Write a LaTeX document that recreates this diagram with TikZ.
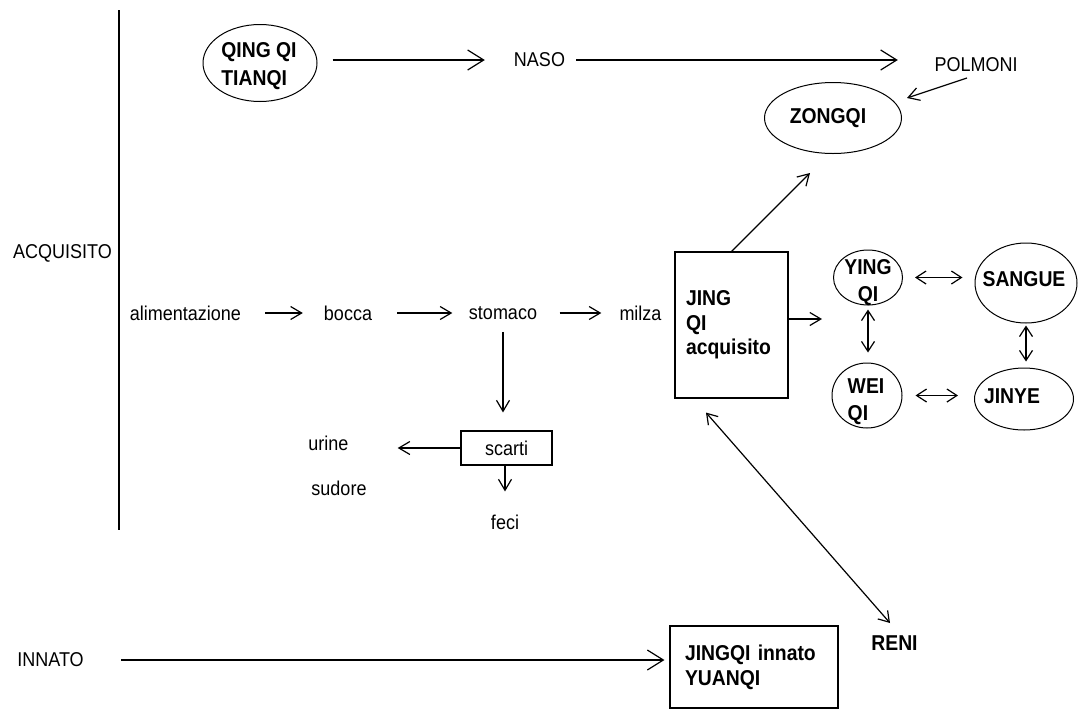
\documentclass[tikz,border=0pt]{standalone}
\usepackage{fontspec}
\setmainfont[FakeStretch=0.9]{Liberation Sans}
\usetikzlibrary{arrows.meta,shapes.geometric}
\newcommand\regf{\fontsize{20}{24}\selectfont}
\newcommand\bldf{\bfseries\fontsize{21.5}{26}\selectfont}
\begin{document}
\begin{tikzpicture}[x=1pt,y=-1pt,
 lbl/.style={inner sep=0pt, font=\regf},
 blbl/.style={inner sep=0pt, font=\bldf, align=left},
 oval/.style={draw, ellipse, inner sep=0pt, line width=1pt},
 boxn/.style={draw, rectangle, line width=1.1pt, inner sep=0pt},
 arr/.style={line width=1.2pt, -{Straight Barb[length=11pt,width=13pt]}},
 arrL/.style={line width=1.2pt, -{Straight Barb[length=16pt,width=20pt]}},
 darr/.style={line width=1.2pt, {Straight Barb[length=10pt,width=13pt]}-{Straight Barb[length=10pt,width=13pt]}}]
\useasboundingbox (0,0) rectangle (1080,713);
\fill[white] (0,0) rectangle (1080,713);
\draw[line width=1.2pt] (119,10) -- (119,530);

% labels on the left
\node[lbl, minimum width=101pt] (acq) at (62.5,253) {ACQUISITO};
\node[lbl, minimum width=75pt] (innato) at (50.5,660) {INNATO};

% top row
\node[oval, minimum width=114pt, minimum height=77pt] (qing) at (260,63) {};
\node[blbl, font={\bfseries\fontsize{21.5}{28}\selectfont}] (qingt) at (259,66) {QING QI\\TIANQI};
\node[lbl, minimum width=55pt] (naso) at (539.5,60) {NASO};
\node[lbl, minimum width=94pt] (polm) at (976,65) {POLMONI};
\node[oval, minimum width=137pt, minimum height=71pt] (zong) at (833,118) {};
\node[blbl] (zongt) at (828,118) {ZONGQI};

% digestion row
\node[lbl, minimum width=113pt] (alim) at (185.5,313) {alimentazione};
\node[lbl, minimum width=52pt] (bocca) at (348,313) {bocca};
\node[lbl, minimum width=69pt] (stom) at (503,313) {stomaco};
\node[lbl, minimum width=41pt] (milza) at (640.5,313) {milza};
\node[boxn, minimum width=91pt, minimum height=34pt, font=\regf] (scarti) at (506.5,448) {scarti};
\node[lbl, minimum width=39pt] (urine) at (328.5,443) {urine};
\node[lbl, minimum width=56pt] (sudore) at (339,488) {sudore};
\node[lbl, minimum width=30pt] (feci) at (505,522) {feci};

% JING QI acquisito
\node[boxn, minimum width=113pt, minimum height=146pt, text width=91pt, inner xsep=11pt, align=left,
      font={\bfseries\fontsize{21.5}{24.5}\selectfont}] (jqa) at (731.5,325) {JING\\QI\\acquisito};

% right cluster
\node[oval, minimum width=69pt, minimum height=55pt] (ying) at (868,277.5) {};
\node[inner sep=0pt, align=center, font={\bfseries\fontsize{21.5}{27}\selectfont}] (yingt) at (868,283) {YING\\QI};
\node[oval, minimum width=70pt, minimum height=65pt] (wei) at (867,395.5) {};
\node[inner sep=0pt, align=left, font={\bfseries\fontsize{21.5}{27}\selectfont}] (weit) at (866,402) {WEI\\QI};
\node[oval, minimum width=102pt, minimum height=80pt] (sangue) at (1026,283) {};
\node[blbl] (sanguet) at (1024,279) {SANGUE};
\node[oval, minimum width=99pt, minimum height=62pt] (jinye) at (1024,399) {};
\node[blbl] (jinyet) at (1012,396) {JINYE};

% bottom
\node[boxn, minimum width=168pt, minimum height=82pt, text width=138pt, inner xsep=15pt, align=left,
      font={\bfseries\fontsize{21.5}{25}\selectfont}] (jyq) at (754,667) {JINGQI innato\\YUANQI};
\node[blbl] (reni) at (894.5,643) {RENI};

% connectors
\draw[arrL, shorten <=15pt, shorten >=27pt] (qing.east |- naso.west) -- (naso.west);
\draw[arrL, shorten <=9pt, shorten >=31pt] (naso.east) -- (naso.east -| polm.west);
\draw[arr] ([xshift=-9pt,yshift=-13pt]polm.center) -- ([xshift=74pt,yshift=20pt]zong.center);
\draw[arr] (jqa.north) -- ([xshift=-23pt,yshift=-55pt]zong.center);

\draw[arr, shorten <=23pt, shorten >=19pt] (alim.east) -- (bocca.west);
\draw[arr, shorten <=23pt, shorten >=16pt] (bocca.east) -- (stom.west);
\draw[arr, shorten <=22pt, shorten >=18pt] (stom.east) -- (milza.west);
\draw[arr, shorten <=12pt, shorten >=18pt] (stom.south) -- (stom.south |- scarti.north);
\draw[arr, shorten >=49pt] (scarti.west) -- (scarti.west -| urine.east);
\draw[arr, shorten >=23pt] (scarti.south -| feci.north) -- (feci.north);

\draw[arr, shorten >=11pt] ([yshift=6pt]jqa.east) -- ([yshift=6pt]jqa.east -| ying.west);
\draw[darr, shorten <=12pt, shorten >=12pt] (ying.east) -- (ying.east -| sangue.west);
\draw[darr, shorten <=13pt, shorten >=16pt] (wei.east) -- (wei.east -| jinye.west);
\draw[darr, shorten <=4pt, shorten >=10pt] (ying.south) -- (ying.south |- wei.north);
\draw[darr, shorten <=2pt, shorten >=6pt] (sangue.south) -- (sangue.south |- jinye.north);
\draw[darr] ([xshift=-25.5pt,yshift=-14pt]jqa.south) -- ([xshift=-4.5pt,yshift=20pt]reni.center);

\draw[arrL, shorten <=33pt, shorten >=5pt] (innato.east) -- (innato.east -| jyq.west);
\end{tikzpicture}
\end{document}
